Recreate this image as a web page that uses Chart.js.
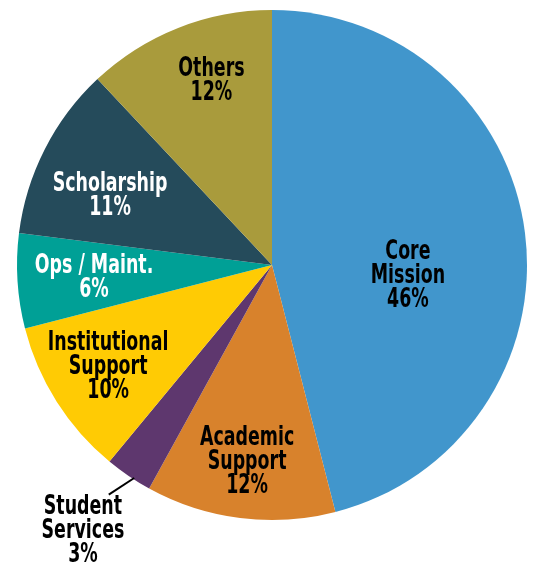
<!DOCTYPE html>
<html>
<head>
<meta charset="utf-8">
<script src="https://cdn.jsdelivr.net/npm/chart.js@4.4.1/dist/chart.umd.min.js"></script>
<style>
  html, body { margin: 0; padding: 0; background: #fff; }
  #wrap { width: 534px; height: 567px; }
</style>
</head>
<body>
<div id="wrap"><canvas id="myChart"></canvas></div>
<script>
const categories = ['Core Mission', 'Academic Support', 'Student Services', 'Institutional Support', 'Ops / Maint.', 'Scholarship', 'Others'];
const labelLines = [['Core', 'Mission'], ['Academic', 'Support'], ['Student', 'Services'], ['Institutional', 'Support'], ['Ops / Maint.'], ['Scholarship'], ['Others']];
const shares = [46, 12, 3, 10, 6, 11, 12];
const colors = ['#4196CC', '#D8822C', '#5E376E', '#FFCB04', '#00A096', '#254B5B', '#A99B3C'];
const textColors = ['#000', '#000', '#000', '#000', '#fff', '#fff', '#000'];
// [angle shift in degrees, fraction of radius]
const labelPlace = [[12, 0.535], [0, 0.78], [1.2, 1.28], [0.5, 0.757], [-0.6, 0.70], [-4, 0.69], [3.4, 0.76]];

const FONT = '"DejaVu Sans", sans-serif';
const SQUEEZE = 0.67; // condensed look

const pieLabels = {
    id: 'pieLabels',
    afterDatasetsDraw(chart) {
        const c = chart.ctx;
        const meta = chart.getDatasetMeta(0);
        c.save();
        c.font = 'bold 26px ' + FONT;
        c.textAlign = 'center';
        c.textBaseline = 'middle';
        meta.data.forEach((arc, i) => {
            const mid = (arc.startAngle + arc.endAngle) / 2 + labelPlace[i][0] * Math.PI / 180;
            const r = arc.outerRadius * labelPlace[i][1];
            const x = arc.x + Math.cos(mid) * r;
            const y = arc.y + Math.sin(mid) * r;
            const lines = labelLines[i].concat([shares[i] + '%']);
            const lh = 24;
            c.fillStyle = textColors[i];
            lines.forEach((t, k) => {
                c.save();
                c.translate(x, y + (k - (lines.length - 1) / 2) * lh);
                c.scale(SQUEEZE, 1);
                c.fillText(t, 0, 0);
                c.restore();
            });
            if (labelPlace[i][1] > 1) {
                // leader line for the outside label
                const a = mid - 2.5 * Math.PI / 180;
                c.strokeStyle = '#000';
                c.lineWidth = 2;
                c.beginPath();
                c.moveTo(arc.x + Math.cos(a) * arc.outerRadius * 0.995, arc.y + Math.sin(a) * arc.outerRadius * 0.995);
                c.lineTo(arc.x + Math.cos(mid) * arc.outerRadius * 1.105, arc.y + Math.sin(mid) * arc.outerRadius * 1.105);
                c.stroke();
            }
        });
        c.restore();
    }
};

new Chart(document.getElementById('myChart'), {
    type: 'pie',
    data: {
        labels: categories,
        datasets: [{
            data: shares,
            backgroundColor: colors,
            borderWidth: 0,
            hoverOffset: 0
        }]
    },
    options: {
        responsive: true,
        maintainAspectRatio: false,
        animation: false,
        layout: { padding: { left: 17, right: 7, top: 10, bottom: 47 } },
        plugins: {
            legend: { display: false },
            tooltip: { enabled: false }
        }
    },
    plugins: [pieLabels]
});
</script>
</body>
</html>
